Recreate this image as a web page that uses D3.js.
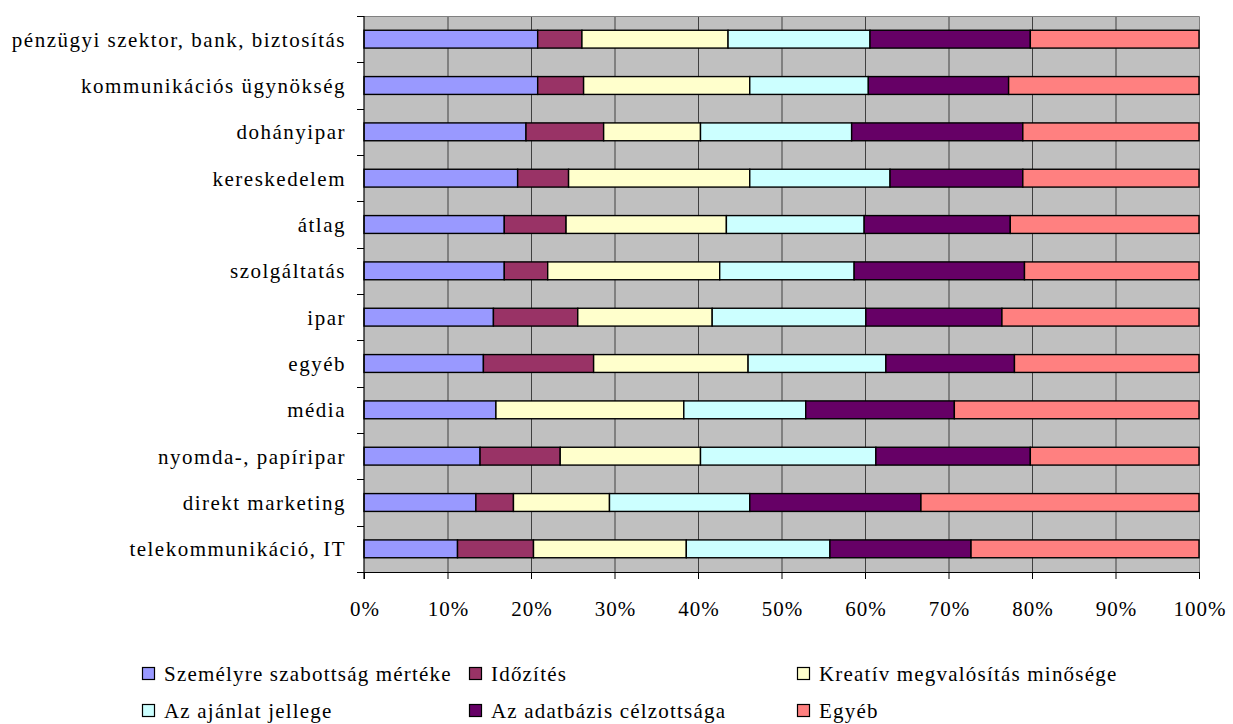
<!DOCTYPE html>
<html><head><meta charset="utf-8">
<script src="https://cdn.jsdelivr.net/npm/d3@7"></script>
<style>body{margin:0;background:#fff}svg text{font-family:"Liberation Serif","Times New Roman",serif;fill:#000}</style>
</head><body>
<svg id="c" width="1233" height="724"></svg>
<script>
const categories = ["pénzügyi szektor, bank, biztosítás","kommunikációs ügynökség","dohányipar","kereskedelem","átlag","szolgáltatás","ipar","egyéb","média","nyomda-, papíripar","direkt marketing","telekommunikáció, IT"];
const seriesNames = ["Személyre szabottság mértéke","Időzítés","Kreatív megvalósítás minősége","Az ajánlat jellege","Az adatbázis célzottsága","Egyéb"];
const seriesColors = ["#9999FF","#993366","#FFFFCC","#CCFFFF","#660066","#FF8080"];
const szemelyre = [20.8,20.8,19.4,18.4,16.8,16.8,15.5,14.3,15.8,13.9,13.4,11.2];
const idozites  = [5.3,5.5,9.3,6.1,7.4,5.2,10.1,13.2,0,9.6,4.5,9.1];
const kreativ   = [17.5,19.9,11.6,21.7,19.2,20.6,16.1,18.5,22.5,16.8,11.5,18.3];
const ajanlat   = [17.0,14.2,18.1,16.8,16.5,16.1,18.4,16.5,14.6,21.0,16.8,17.2];
const adatbazis = [19.2,16.8,20.5,15.9,17.5,20.4,16.3,15.4,17.8,18.5,20.5,16.9];
const egyeb     = [20.2,22.8,21.1,21.1,22.6,20.9,23.6,22.1,29.3,20.2,33.3,27.3];
const xTicks = [0,10,20,30,40,50,60,70,80,90,100];

const seriesValues = [szemelyre,idozites,kreativ,ajanlat,adatbazis,egyeb];
const rows = categories.map((c,i)=>{const o={cat:c}; seriesNames.forEach((s,j)=>o[s]=seriesValues[j][i]); return o;});
const stack = d3.stack().keys(seriesNames).offset(d3.stackOffsetExpand)(rows);

const svg = d3.select("#c");
const L=364, R=1199, T=16, B=572;
const x = d3.scaleLinear().domain([0,1]).range([L,R]);
const y = d3.scaleBand().domain(categories).range([T,B]).paddingInner(0.615).paddingOuter(0.3075);
const yb = d3.scaleBand().domain(categories).range([T,B]);

svg.append("rect").attr("x",L).attr("y",T).attr("width",R-L).attr("height",B-T).attr("fill","#C0C0C0");
// gridlines
svg.append("g").selectAll("line").data(xTicks.slice(1,-1)).join("line")
  .attr("x1",d=>x(d/100)+0.5).attr("x2",d=>x(d/100)+0.5).attr("y1",T).attr("y2",B)
  .attr("stroke","#404040").attr("stroke-width",1);
// border top/right
svg.append("path").attr("d",`M${L},${T+0.5}H${R+0.5}V${B}`).attr("fill","none").attr("stroke","#808080").attr("stroke-width",1);

// bars
svg.append("g").selectAll("g").data(stack).join("g").attr("fill",(d,i)=>seriesColors[i])
  .selectAll("rect").data(d=>d.map(v=>({v,cat:v.data.cat}))).join("rect")
  .filter(d=>d.v[1]-d.v[0]>0)
  .attr("x",d=>x(d.v[0])).attr("width",d=>x(d.v[1])-x(d.v[0]))
  .attr("y",d=>y(d.cat)).attr("height",y.bandwidth())
  .attr("stroke","#000").attr("stroke-width",1.4);

// x axis
const xa = svg.append("g").attr("transform",`translate(0,${B})`)
  .call(d3.axisBottom(x).tickValues(xTicks.map(d=>d/100)).tickFormat(d=>Math.round(d*100)+"%").tickSizeInner(7).tickSizeOuter(0).tickPadding(22));
xa.select(".domain").attr("stroke","#000").attr("stroke-width",1.2);
xa.selectAll(".tick line").attr("stroke","#000");
xa.selectAll("text").attr("font-size","21px").attr("font-family","Liberation Serif").attr("letter-spacing","1px").attr("dx","0.5px");

// y axis
const ya = svg.append("g").attr("transform",`translate(${L},0)`);
ya.append("line").attr("x1",0).attr("x2",0).attr("y1",T).attr("y2",B+7).attr("stroke","#000").attr("stroke-width",1.2);
const bounds = categories.map(c=>yb(c)).concat([B]);
ya.selectAll("line.t").data(bounds).join("line").attr("class","t")
  .attr("x1",-7).attr("x2",0).attr("y1",d=>Math.round(d)+0.5).attr("y2",d=>Math.round(d)+0.5).attr("stroke","#000");
ya.selectAll("text").data(categories).join("text")
  .attr("x",-18).attr("y",d=>yb(d)+yb.bandwidth()/2).attr("dy","0.35em")
  .attr("text-anchor","end").attr("font-size","21px").attr("letter-spacing","1.5px").text(d=>d);

// legend
const legPos = [[142,674],[469,674],[797,674],[142,711],[469,711],[797,711]];
const lg = svg.append("g").selectAll("g").data(seriesNames).join("g")
  .attr("transform",(d,i)=>`translate(${legPos[i][0]},${legPos[i][1]})`);
lg.append("rect").attr("x",0.5).attr("y",-6.5).attr("width",12).attr("height",12)
  .attr("fill",(d,i)=>seriesColors[i]).attr("stroke","#000").attr("stroke-width",1.2);
lg.append("text").attr("x",22).attr("y",0).attr("dy","0.35em").attr("font-size","21px").attr("letter-spacing","1.2px").text(d=>d);
</script>
</body></html>
